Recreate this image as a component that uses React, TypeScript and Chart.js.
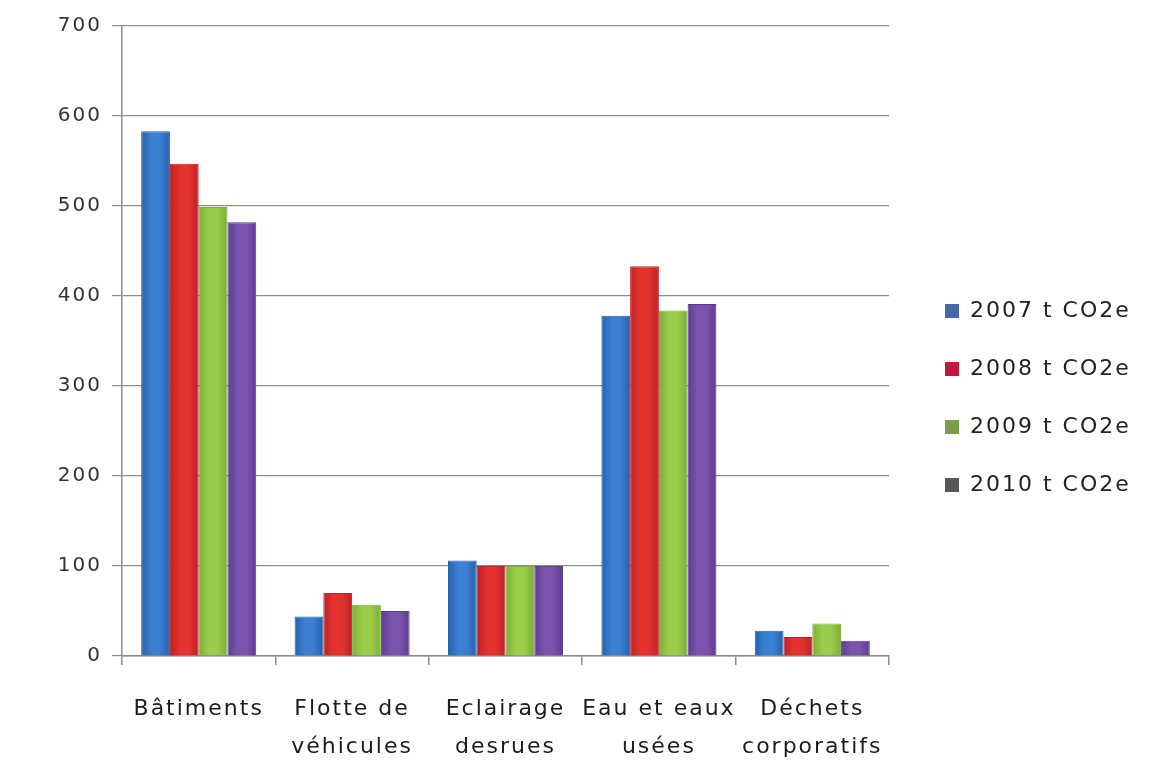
import { useEffect, useRef } from 'react';
import { Chart, registerables } from 'chart.js';

Chart.register(...registerables);

// Emission sources (x categories), multi-line labels as arrays
const categories: (string | string[])[] = [
  'Bâtiments',
  ['Flotte de', 'véhicules'],
  ['Eclairage', 'desrues'],
  ['Eau et eaux', 'usées'],
  ['Déchets', 'corporatifs'],
];

// Yearly emissions, tonnes CO2e
const series2007 = [583, 44, 106, 378, 28];
const series2008 = [547, 70, 100, 433, 21];
const series2009 = [499, 57, 100, 384, 36];
const series2010 = [482, 50, 100, 391, 17];

const seriesNames = ['2007 t CO2e', '2008 t CO2e', '2009 t CO2e', '2010 t CO2e'];
const barLight = ['#3b80d2', '#e3332f', '#9acd4a', '#7c54ae'];
const barDark = ['#2760ad', '#be2126', '#7bad36', '#5c3b90'];
const legendSwatches = ['#4469a8', '#c4163e', '#7d9c4c', '#575757'];

const yTicks = { min: 0, max: 700, step: 100 };

const FONT = 'DejaVu Sans';
const CATEGORY_PCT = 0.75;

// Widen glyph spacing for every text drawn on the canvas
const letterSpacingPlugin = {
  id: 'letterSpacing',
  beforeUpdate(chart: Chart) {
    (chart.ctx as any).letterSpacing = '2px';
  },
  beforeDraw(chart: Chart) {
    (chart.ctx as any).letterSpacing = '2px';
  },
};

// Legend text is measured without the extra glyph spacing; give its box room for it
const legendRoomPlugin = {
  id: 'legendRoom',
  beforeUpdate(chart: any) {
    const lg = chart.legend;
    if (lg && !lg.__roomy) {
      const fit = lg.fit.bind(lg);
      lg.fit = function () {
        fit();
        this.width += 41;
      };
      lg.__roomy = true;
    }
  },
};

// Horizontal shading across each bar, light toward the middle and darker at the edges
function barFill(seriesIndex: number) {
  return (c: any) => {
    const chart = c.chart;
    const xs = chart.scales && chart.scales.x;
    if (c.type !== 'data' || !xs || !xs.width) return barLight[seriesIndex];
    const catW = xs.width / categories.length;
    const groupW = catW * CATEGORY_PCT;
    const barW = groupW / seriesNames.length;
    const left = xs.getPixelForValue(c.dataIndex) - groupW / 2 + seriesIndex * barW;
    const g = chart.ctx.createLinearGradient(left, 0, left + barW, 0);
    g.addColorStop(0, barDark[seriesIndex]);
    g.addColorStop(0.35, barLight[seriesIndex]);
    g.addColorStop(0.65, barLight[seriesIndex]);
    g.addColorStop(1, barDark[seriesIndex]);
    return g;
  };
}

export default function App() {
  const canvasRef = useRef<HTMLCanvasElement | null>(null);

  useEffect(() => {
    const canvas = canvasRef.current;
    if (!canvas) return;
    const seriesData = [series2007, series2008, series2009, series2010];

    const chart = new Chart(canvas, {
      type: 'bar',
      data: {
        labels: categories,
        datasets: seriesNames.map((name, i) => ({
          label: name,
          data: seriesData[i],
          backgroundColor: barFill(i),
          borderColor: barDark[i],
          borderWidth: 1,
          categoryPercentage: CATEGORY_PCT,
          barPercentage: 1,
        })),
      },
      options: {
        responsive: false,
        animation: false,
        devicePixelRatio: 1,
        layout: { padding: { top: 26, left: 0, right: 14, bottom: 0 } },
        plugins: {
          tooltip: { enabled: false },
          legend: {
            position: 'right',
            align: 'center',
            title: { display: true, text: ' ', padding: 0, font: { size: 6, lineHeight: 1.34 } },
            labels: {
              boxWidth: 14,
              boxHeight: 14,
              padding: 36,
              color: '#222',
              font: { family: FONT, size: 22 },
              generateLabels: () =>
                seriesNames.map((name, i) => ({
                  text: name,
                  fillStyle: legendSwatches[i],
                  strokeStyle: legendSwatches[i],
                  lineWidth: 0,
                  hidden: false,
                  datasetIndex: i,
                  fontColor: '#222',
                })),
            },
          },
        },
        scales: {
          x: {
            afterFit: (s: any) => {
              s.height = 106;
            },
            grid: {
              offset: true,
              drawOnChartArea: false,
              drawTicks: true,
              tickLength: 9,
              color: '#8c8c8c',
              lineWidth: 1.5,
            },
            border: { display: true, color: '#8c8c8c', width: 1.5 },
            ticks: {
              color: '#1c1c1c',
              padding: 26,
              maxRotation: 0,
              autoSkip: false,
              font: { family: FONT, size: 22, lineHeight: 1.7 },
            },
          },
          y: {
            min: yTicks.min,
            max: yTicks.max,
            afterFit: (s: any) => {
              s.width = 122;
            },
            grid: {
              color: '#8c8c8c',
              lineWidth: 1.2,
              tickLength: 10,
              drawTicks: true,
            },
            border: { display: true, color: '#8c8c8c', width: 1.5 },
            ticks: {
              stepSize: yTicks.step,
              color: '#333',
              padding: 10,
              font: { family: FONT, size: 20 },
            },
          },
          gap: {
            type: 'linear',
            position: 'right',
            display: true,
            afterFit: (s: any) => {
              s.width = 20;
            },
            grid: { display: false, drawTicks: false },
            border: { display: false },
            ticks: { display: false },
          },
        },
      },
      plugins: [letterSpacingPlugin, legendRoomPlugin],
    } as any);

    return () => chart.destroy();
  }, []);

  return (
    <div style={{ position: 'fixed', left: 0, top: 0, width: 1154, height: 762, background: '#fff' }}>
      <canvas ref={canvasRef} width={1154} height={762} style={{ display: 'block' }} />
    </div>
  );
}
